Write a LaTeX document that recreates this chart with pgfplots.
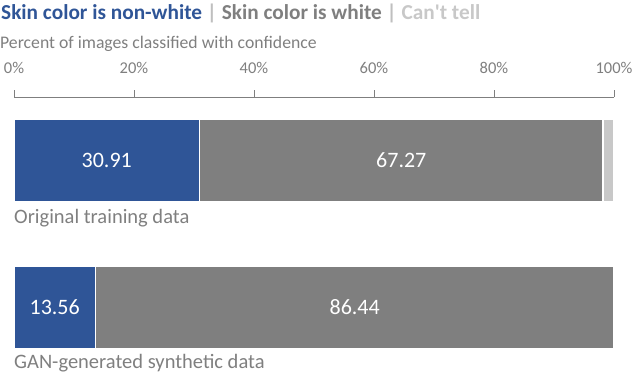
\documentclass[border=0pt]{standalone}
\usepackage{pgfplots}
\pgfplotsset{compat=1.18}
\usepackage{fontspec}
\setmainfont{Carlito}
\definecolor{cblue}{HTML}{2F5597}
\definecolor{cgray}{HTML}{7F7F7F}
\definecolor{clight}{HTML}{C8C8C8}
\definecolor{csep}{HTML}{BFBFBF}
\definecolor{clab}{HTML}{7F7F7F}
\begin{document}
\begin{tikzpicture}
\useasboundingbox (0pt,0pt) rectangle (634pt,-374pt);
\node[anchor=west,inner sep=0pt,font=\fontsize{21.3}{23}\selectfont\bfseries] at (1pt,-13pt)
 {\textcolor{cblue}{Skin color is non-white}\textcolor{csep}{\ |\ }\textcolor{cgray}{Skin color is white}\textcolor{csep}{\ |\ }\textcolor{clight}{Can\textquotesingle t tell}};
\node[anchor=west,inner sep=0pt,font=\fontsize{17.7}{19}\selectfont,text=clab] at (0pt,-44pt)
 {Percent of images classified with confidence};
\begin{axis}[
  at={(14pt,-97pt)}, anchor=north west,
  scale only axis, width=600pt, height=277pt,
  xbar stacked, bar width=82pt,
  xmin=0, xmax=100,
  ymin=-0.432, ymax=1.452, y dir=reverse,
  axis x line*=top, axis y line=none,
  x axis line style={draw=cgray, -, line width=0.8pt},
  xtick={0,20,40,60,80,100},
  xticklabel={\pgfmathprintnumber{\tick}\%},
  xticklabel style={font=\fontsize{16.5}{18}\selectfont, text=clab, yshift=13pt},
  /pgf/number format/assume math mode=true,
  major tick length=7pt,
  tick style={draw=cgray, line width=0.6pt},
  tick align=outside,
  ytick=\empty,
  clip=false,
]
\addplot[fill=cblue, draw=white, line width=1.2pt] coordinates {(30.91,0) (13.56,1)};
\addplot[fill=cgray, draw=white, line width=1.2pt] coordinates {(67.27,0) (86.44,1)};
\addplot[fill=clight, draw=white, line width=1.2pt] coordinates {(1.82,0) (0,1)};
\coordinate (a) at (axis cs:15.455,0);
\coordinate (b) at (axis cs:64.55,0);
\coordinate (c) at (axis cs:6.78,1);
\coordinate (d) at (axis cs:56.78,1);
\coordinate (e) at (axis cs:0,0.39);
\coordinate (f) at (axis cs:0,1.38);
\end{axis}
\node[text=white, font=\fontsize{22}{24}\selectfont] at (a) {30.91};
\node[text=white, font=\fontsize{22}{24}\selectfont] at (b) {67.27};
\node[text=white, font=\fontsize{22}{24}\selectfont] at (c) {13.56};
\node[text=white, font=\fontsize{22}{24}\selectfont] at (d) {86.44};
\node[anchor=west, inner sep=0pt, text=clab, font=\fontsize{20.5}{22}\selectfont] at (e) {Original training data};
\node[anchor=west, inner sep=0pt, text=clab, font=\fontsize{20.5}{22}\selectfont] at (f) {GAN-generated synthetic data};
\end{tikzpicture}
\end{document}
